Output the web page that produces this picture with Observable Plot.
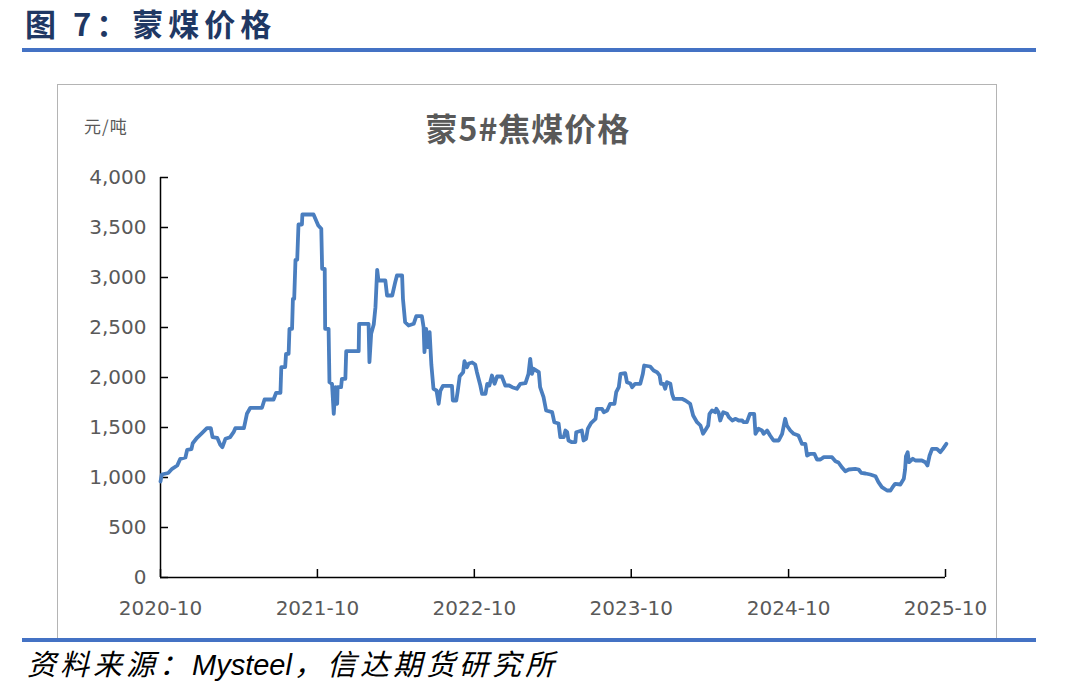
<!DOCTYPE html>
<html><head><meta charset="utf-8">
<script src="https://cdn.jsdelivr.net/npm/d3@7"></script>
<script src="https://cdn.jsdelivr.net/npm/@observablehq/plot@0.6"></script>
<style>
body{margin:0;background:#fff;}
#wrap{position:relative;width:1086px;height:695px;overflow:hidden;font-family:"Noto Sans CJK SC",sans-serif;}
#hdr{position:absolute;left:25px;top:3px;font-size:31px;font-weight:700;color:#1f3864;letter-spacing:5px;line-height:40px;white-space:nowrap;}
.rule{position:absolute;left:22px;width:1014px;height:4px;background:#4472c4;}
#box{position:absolute;left:57px;top:84px;width:940px;height:556px;border:1px solid #b4b4b4;box-sizing:border-box;}
#title{position:absolute;left:328px;width:400px;top:107px;text-align:center;font-size:32px;font-weight:700;color:#595959;line-height:40px;letter-spacing:1px;}
#unit{position:absolute;left:84px;top:114px;font-size:17px;color:#595959;line-height:24px;letter-spacing:1px;}
#foot{position:absolute;left:27px;top:642px;font-size:29px;font-style:italic;color:#000;line-height:40px;white-space:nowrap;letter-spacing:4px;}
#foot span{letter-spacing:0;font-family:"Liberation Sans",sans-serif;margin-right:2px;}
#plot{position:absolute;left:0;top:0;}
</style></head>
<body>
<div id="wrap">
  <div id="hdr">图 7：蒙煤价格</div>
  <div class="rule" style="top:48px"></div>
  <div id="box"></div>
  <div id="title">蒙5#焦煤价格</div>
  <div id="unit">元/吨</div>
  <div id="plot"></div>
  <div class="rule" style="top:638px"></div>
  <div id="foot">资料来源：<span>Mysteel</span>，信达期货研究所</div>
</div>
<script>
const dates = [
"2020-10-01","2020-10-04","2020-10-19","2020-10-28","2020-11-09","2020-11-16","2020-11-28","2020-12-02","2020-12-12","2020-12-15",
"2020-12-25","2021-01-06","2021-01-17","2021-01-26","2021-01-30","2021-02-10","2021-02-17","2021-02-22","2021-03-01","2021-03-12",
"2021-03-20","2021-03-24","2021-04-13","2021-04-16","2021-04-20","2021-04-28","2021-05-25","2021-05-31","2021-06-21","2021-06-27",
"2021-07-07","2021-07-09","2021-07-18","2021-07-20","2021-07-26","2021-07-28","2021-08-03","2021-08-05","2021-08-08","2021-08-11",
"2021-08-15","2021-08-18","2021-08-26","2021-08-27","2021-09-22","2021-10-03","2021-10-10","2021-10-12","2021-10-18","2021-10-19",
"2021-10-27","2021-10-29","2021-11-04","2021-11-08","2021-11-12","2021-11-16","2021-11-17","2021-11-25","2021-11-27","2021-12-05",
"2021-12-07","2022-01-05","2022-01-06","2022-01-28","2022-01-30","2022-02-03","2022-02-09","2022-02-13","2022-02-17","2022-02-20",
"2022-03-08","2022-03-12","2022-03-24","2022-03-31","2022-04-04","2022-04-16","2022-04-18","2022-04-23","2022-05-01","2022-05-13",
"2022-05-19","2022-06-01","2022-06-05","2022-06-07","2022-06-11","2022-06-14","2022-06-19","2022-06-23","2022-06-28","2022-07-05",
"2022-07-10","2022-07-14","2022-07-20","2022-08-10","2022-08-12","2022-08-20","2022-08-23","2022-08-28","2022-09-05","2022-09-08",
"2022-09-14","2022-09-18","2022-09-26","2022-10-03","2022-10-07","2022-10-15","2022-10-19","2022-10-27","2022-10-31","2022-11-05",
"2022-11-11","2022-11-17","2022-11-23","2022-12-04","2022-12-12","2022-12-21","2022-12-28","2023-01-08","2023-01-16","2023-01-28",
"2023-02-04","2023-02-08","2023-02-12","2023-02-16","2023-02-28","2023-03-03","2023-03-11","2023-03-17","2023-03-31","2023-04-05",
"2023-04-15","2023-04-19","2023-04-27","2023-05-01","2023-05-05","2023-05-08","2023-05-16","2023-05-24","2023-05-26","2023-06-08",
"2023-06-12","2023-06-18","2023-06-22","2023-06-30","2023-07-10","2023-07-13","2023-07-25","2023-07-29","2023-08-06","2023-08-13",
"2023-08-23","2023-08-27","2023-09-02","2023-09-06","2023-09-17","2023-09-21","2023-09-29","2023-10-03","2023-10-10","2023-10-22",
"2023-10-28","2023-10-31","2023-11-14","2023-11-22","2023-11-30","2023-12-06","2023-12-09","2023-12-15","2023-12-19","2023-12-23",
"2023-12-31","2024-01-04","2024-01-08","2024-01-27","2024-02-04","2024-02-15","2024-02-22","2024-03-02","2024-03-10","2024-03-16",
"2024-03-21","2024-03-28","2024-03-31","2024-04-06","2024-04-14","2024-04-16","2024-04-21","2024-04-25","2024-05-02","2024-05-11",
"2024-05-15","2024-05-23","2024-05-31","2024-06-07","2024-06-15","2024-06-18","2024-06-26","2024-07-03","2024-07-13","2024-07-16",
"2024-07-23","2024-07-31","2024-08-04","2024-08-12","2024-08-19","2024-08-27","2024-09-08","2024-09-16","2024-09-23","2024-09-27",
"2024-10-05","2024-10-13","2024-10-24","2024-11-01","2024-11-09","2024-11-13","2024-11-21","2024-11-30","2024-12-06","2024-12-14",
"2024-12-22","2025-01-10","2025-01-18","2025-01-25","2025-02-03","2025-02-10","2025-02-18","2025-03-05","2025-03-13","2025-03-19",
"2025-03-29","2025-04-09","2025-04-21","2025-04-28","2025-05-06","2025-05-18","2025-05-26","2025-06-01","2025-06-06","2025-06-18",
"2025-06-26","2025-06-29","2025-07-01","2025-07-05","2025-07-08","2025-07-17","2025-07-23","2025-08-07","2025-08-15","2025-08-20",
"2025-08-25","2025-08-31","2025-09-11","2025-09-19","2025-09-25","2025-10-03"
];
const prices = [
960,1030,1045,1087,1120,1187,1200,1277,1283,1343,
1397,1447,1493,1493,1403,1397,1327,1303,1387,1403,
1453,1493,1493,1553,1637,1697,1697,1780,1780,1847,
1847,2103,2103,2237,2237,2487,2487,2787,2787,3177,
3177,3530,3530,3630,3630,3520,3487,3087,3087,2487,
2487,1953,1937,1637,1903,1737,1903,1903,1987,1987,
2263,2263,2537,2537,2153,2437,2530,2703,3077,2970,
2970,2820,2820,2953,3020,3020,2787,2553,2520,2537,
2613,2613,2503,2253,2487,2303,2453,2130,1887,1870,
1737,1867,1917,1917,1770,1770,1853,2013,2053,2163,
2103,2140,2150,2130,2053,1920,1837,1837,1937,1920,
2020,1937,2010,2010,1920,1920,1903,1887,1937,1943,
2037,2187,2037,2087,2053,1903,1803,1670,1653,1553,
1540,1403,1403,1470,1453,1370,1353,1353,1453,1470,
1370,1387,1487,1547,1587,1687,1687,1653,1670,1737,
1737,1853,1903,2037,2043,1953,1940,1903,1937,1937,
2037,2120,2110,2070,2053,2020,1937,1937,1887,1953,
1937,1837,1787,1787,1770,1737,1620,1553,1520,1437,
1470,1520,1637,1670,1653,1687,1653,1570,1653,1637,
1603,1570,1587,1570,1570,1553,1553,1637,1637,1437,
1487,1470,1437,1470,1420,1370,1370,1437,1587,1520,
1470,1437,1420,1337,1337,1220,1237,1237,1180,1180,
1203,1203,1163,1150,1097,1063,1080,1087,1080,1047,
1040,1030,1013,953,903,870,870,910,937,930,
987,1080,1213,1253,1153,1187,1170,1170,1153,1120,
1220,1287,1287,1253,1287,1337
];
const yTicks = [0,500,1000,1500,2000,2500,3000,3500,4000];
const xTickLabels = ["2020-10","2021-10","2022-10","2023-10","2024-10","2025-10"];

const parse = d3.utcParse("%Y-%m-%d");
const data = dates.map((d,i) => ({date: parse(d), value: prices[i]}));
const xTicks = xTickLabels.map(s => d3.utcParse("%Y-%m")(s));
const xDomain = [xTicks[0], xTicks[xTicks.length-1]];

const chart = Plot.plot({
  width:1086, height:695,
  marginLeft:160, marginRight:141, marginTop:177, marginBottom:118,
  style:{fontFamily:"'DejaVu Sans', sans-serif", fontSize:"20px", background:"transparent", overflow:"visible"},
  x:{type:"utc", domain:xDomain},
  y:{domain:[0,4000]},
  marks:[
    Plot.axisY({ticks:yTicks, tickSize:-8, tickPadding:22, tickFormat:d3.format(","), label:null, stroke:"#000", fill:"#595959", strokeWidth:1.5}),
    Plot.axisX({ticks:xTicks, tickSize:-8, tickPadding:31, tickFormat:d3.utcFormat("%Y-%m"), label:null, stroke:"#000", fill:"#595959", strokeWidth:1.5}),
    Plot.ruleX([xDomain[0]], {stroke:"#000", strokeWidth:1.5}),
    Plot.ruleY([0], {stroke:"#000", strokeWidth:1.5}),
    Plot.line(data, {x:"date", y:"value", stroke:"#4a7ebf", strokeWidth:3.8, strokeLinejoin:"round", curve:"linear"})
  ]
});
document.getElementById("plot").appendChild(chart);
</script>
</body></html>
